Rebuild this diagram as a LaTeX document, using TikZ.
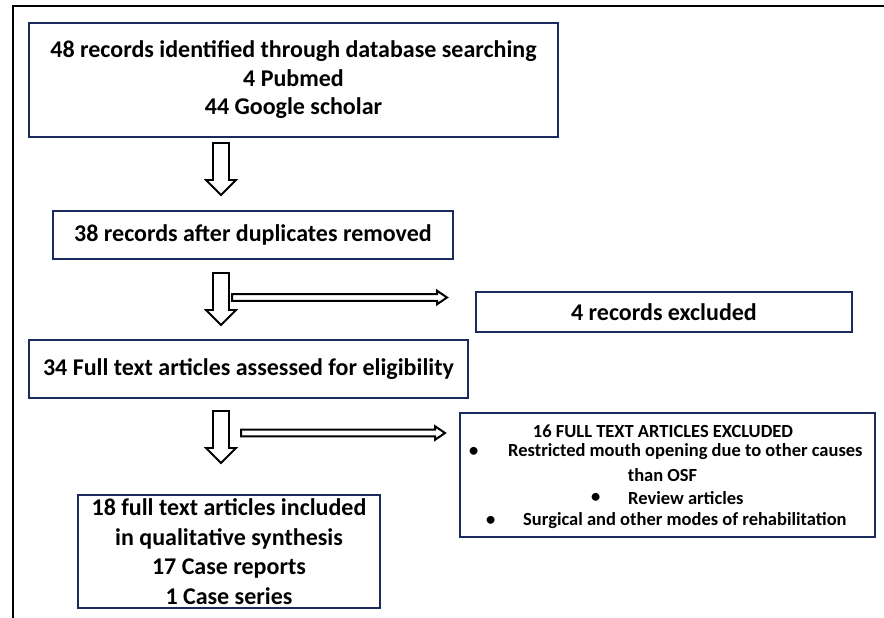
\documentclass[tikz,border=0pt]{standalone}
\usepackage{fontspec}
\setmainfont{Carlito}
\definecolor{navy}{HTML}{1B2A5C}
\tikzset{
  box/.style={draw=navy, line width=2pt, fill=white, inner sep=0pt, align=center,
    font=\bfseries\fontsize{24}{28.5}\selectfont, text=black},
  smalltxt/.style={inner sep=0pt, anchor=west, font=\bfseries\fontsize{18.5}{22.5}\selectfont},
  blockarrow/.style={draw=black, line width=1.8pt, fill=white, line join=miter},
  framestyle/.style={line width=2.5pt},
  pics/downarr/.style={code={
    \draw[blockarrow] (-8,0) -- (8,0) -- (8,37) -- (15,37) -- (0,52) -- (-15,37) -- (-8,37) -- cycle;}},
  pics/rightarr/.style={code={
    \draw[blockarrow, line width=2pt] (0,-3.3) -- ({#1-10},-3.3) -- ({#1-10},-6.8) -- (#1,0)
      -- ({#1-10},6.8) -- ({#1-10},3.3) -- (0,3.3) -- cycle;}}
}
\begin{document}
\begin{tikzpicture}[x=1pt,y=-1pt]
\useasboundingbox (0,0) rectangle (884,618);
\draw[framestyle] (13,618) -- (13,6) -- (884,6);

\node[box, minimum width=529pt, minimum height=114pt] (b1) at (293.5,80)
  {48 records identified through database searching\\4 Pubmed\\44 Google scholar};
\node[box, minimum width=400pt, minimum height=48pt] (b2) at (253,235)
  {38 records after duplicates removed};
\node[box, minimum width=376pt, minimum height=40pt] (bx) at (664,312)
  {4 records excluded};
\node[box, minimum width=439pt, minimum height=58pt] (b3) at (248.5,369)
  {34 Full text articles assessed for eligibility};
\node[box, minimum width=415pt, minimum height=124pt] (b5) at (667.5,475) {};
\node[box, minimum width=302pt, minimum height=113pt, font=\bfseries\fontsize{24}{29.5}\selectfont] (b4) at (229,551.5)
  {18 full text articles included\\in qualitative synthesis\\17 Case reports\\1 Case series};

% excluded list
\node[smalltxt, anchor=center] (t1) at (663,431) {16 FULL TEXT ARTICLES EXCLUDED};
\node[smalltxt] (u1) at (469,452) {\textbullet};
\node[smalltxt] (t2) at (508,452) {Restricted mouth opening due to other causes};
\node[smalltxt, anchor=center] (t3) at (662.5,475) {than OSF};
\node[smalltxt] (u2) at (591,498) {\textbullet};
\node[smalltxt] (t4) at (628,498) {Review articles};
\node[smalltxt] (u3) at (486,521) {\textbullet};
\node[smalltxt] (t5) at (523,521) {Surgical and other modes of rehabilitation};

% arrows
\coordinate (a1) at (221,143);
\coordinate (a2) at (221,273);
\coordinate (a3) at (221,411);
\pic at (a1) {downarr};
\pic at (a2) {downarr};
\pic at (a3) {downarr};
\coordinate (h2) at (232,297.5);
\coordinate (h3) at (241,433);
\pic at (h2) {rightarr=215};
\pic at (h3) {rightarr=204};
\end{tikzpicture}
\end{document}
